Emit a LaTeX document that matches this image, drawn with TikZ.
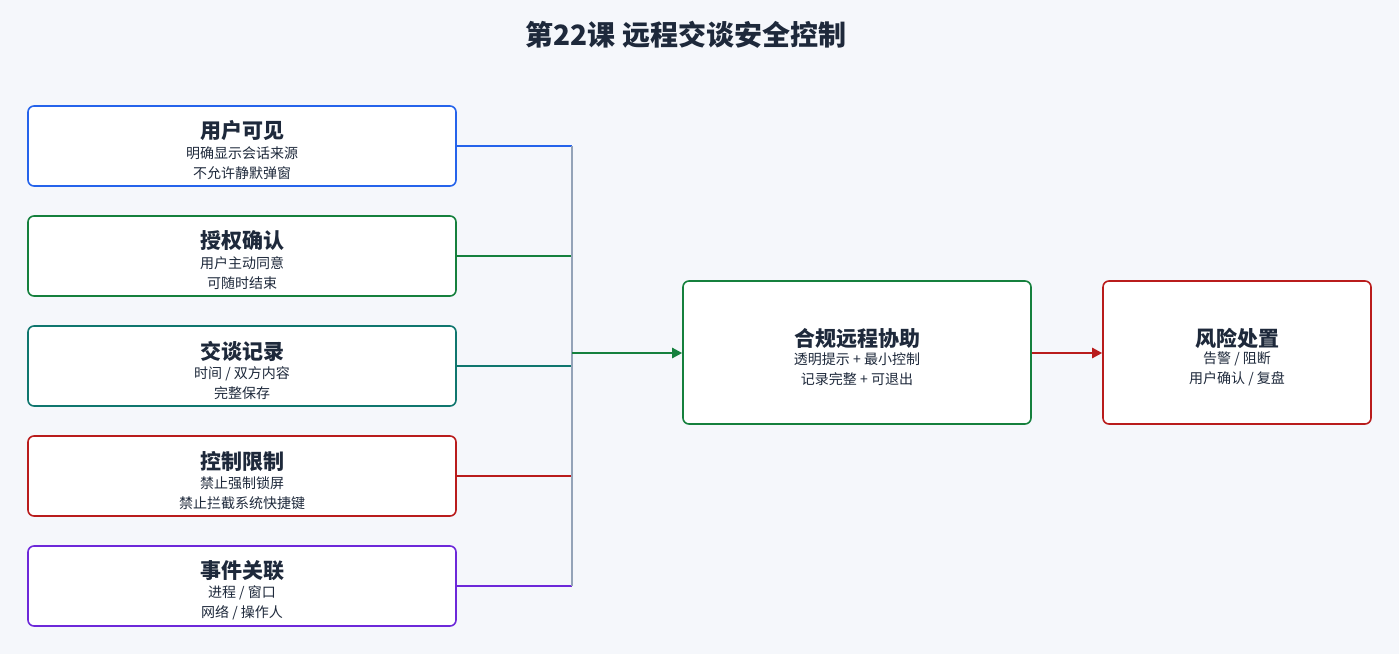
\documentclass[tikz,border=0pt]{standalone}
\usepackage{fontspec}
\setmainfont{Noto Sans CJK SC}
\usetikzlibrary{arrows.meta}
\definecolor{bg}{HTML}{F5F7FB}
\definecolor{ink}{HTML}{1E293B}
\definecolor{cb}{HTML}{2563EB}
\definecolor{cg}{HTML}{15803D}
\definecolor{ct}{HTML}{0F766E}
\definecolor{cr}{HTML}{B91C1C}
\definecolor{cp}{HTML}{6D28D9}
\definecolor{cgr}{HTML}{94A3B8}
\begin{document}
\begin{tikzpicture}[x=1pt,y=-1pt,
 box/.style={draw=#1,line width=1.6pt,rounded corners=6pt,fill=white},
 ttl/.style={font=\bfseries\fontsize{21}{24}\selectfont,text=ink},
 sub/.style={font=\fontsize{14}{20}\selectfont,text=ink,align=center},
 link/.style={draw=#1,line width=1.4pt}]
\fill[bg] (0,0) rectangle (1399,654);
\useasboundingbox (0,0) rectangle (1399,654);
\node[font=\bfseries\fontsize{28}{32}\selectfont,text=ink] (title) at (686,35) {第22课 远程交谈安全控制};
\coordinate (bustop) at (572,146);
\coordinate (busbot) at (572,586);
\coordinate (busmid) at (572,353);
\foreach \n/\c/\y/\t/\a/\b in {a/cb/146/用户可见/明确显示会话来源/不允许静默弹窗,
 b/cg/256/授权确认/用户主动同意/可随时结束,
 c/ct/366/交谈记录/{时间 / 双方内容}/完整保存,
 d/cr/476/控制限制/禁止强制锁屏/禁止拦截系统快捷键,
 e/cp/586/事件关联/{进程 / 窗口}/{网络 / 操作人}}{
 \node[box=\c,minimum width=428pt,minimum height=80pt] (box\n) at (242,\y) {};
 \node[ttl] (ttl\n) at (242,\y-15) {\t};
 \node[sub] (sub\n) at (242,\y+17) {\a\\\b};
 \coordinate (join\n) at (572,\y);
 \draw[link=\c] (box\n.east) -- (join\n);
}
\draw[draw=cgr,line width=1.4pt] (bustop) -- (busbot);
\node[box=cg,minimum width=348pt,minimum height=143pt] (m) at (857,352.5) {};
\node[ttl] (mt) at (857,338) {合规远程协助};
\node[sub] (ms) at (857,369) {透明提示 + 最小控制\\记录完整 + 可退出};
\node[box=cr,minimum width=268pt,minimum height=143pt] (r) at (1237,352.5) {};
\node[ttl] (rt) at (1237,338) {风险处置};
\node[sub] (rs) at (1237,369) {告警 / 阻断\\用户确认 / 复盘};
\draw[draw=cg,line width=2.4pt,-{Triangle[length=10pt,width=10pt]}] (busmid) -- (m.west |- busmid);
\draw[draw=cr,line width=2.4pt,-{Triangle[length=10pt,width=10pt]}] (m.east |- busmid) -- (r.west |- busmid);
\end{tikzpicture}
\end{document}
